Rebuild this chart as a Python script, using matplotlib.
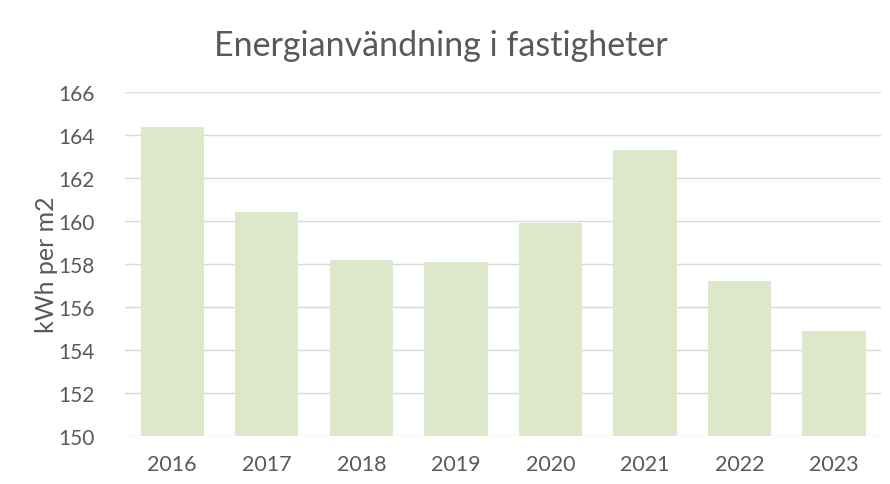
import numpy as np
import matplotlib
matplotlib.use("Agg")
import matplotlib.pyplot as plt

years = ['2016', '2017', '2018', '2019', '2020', '2021', '2022', '2023']
kwh = [164.4, 160.4, 158.2, 158.1, 159.9, 163.3, 157.2, 154.9]
yticks = [150, 152, 154, 156, 158, 160, 162, 164, 166]

plt.rcParams['font.family'] = ['Lato', 'DejaVu Sans']
textColor = '#595959'

fig = plt.figure(figsize=(8.9, 4.85), dpi=100)
ax = fig.add_axes([0.1404, 0.099, 0.85, 0.709])

x = np.arange(len(years))
ax.bar(x, kwh, width=0.67, color='#dde7c9', zorder=2)

ax.set_ylim(150, 166)
ax.set_xlim(-0.5, len(years) - 0.5)
ax.set_yticks(yticks)
ax.set_yticklabels([str(y) for y in yticks], fontsize=15, color=textColor)
ax.set_xticks(x)
ax.set_xticklabels(years, fontsize=15.5, color=textColor)
ax.tick_params(axis='x', length=0, pad=13)
ax.tick_params(axis='y', length=0, pad=22)

ax.grid(axis='y', color='#d9d9d9', linewidth=1, zorder=0)
for s in ax.spines.values():
    s.set_visible(False)

ax.set_ylabel('kWh per m2', fontsize=18, color=textColor, labelpad=0)
fig.text(0.495, 0.905, 'Energianvändning i fastigheter', fontsize=24.5,
         color=textColor, ha='center', va='center')

fig.savefig('out.png', dpi=100)
